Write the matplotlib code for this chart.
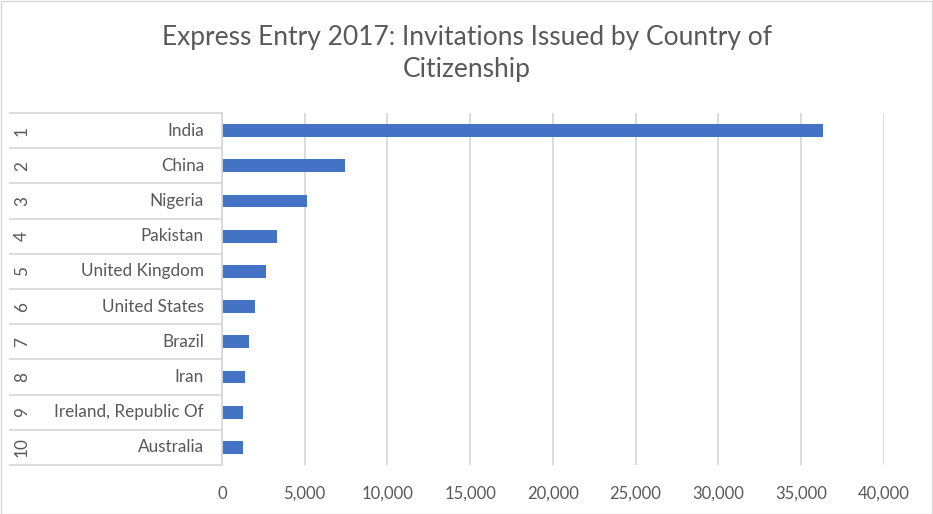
import matplotlib
matplotlib.use("Agg")
import matplotlib.pyplot as plt
from matplotlib.transforms import blended_transform_factory
from matplotlib.patches import Rectangle
from matplotlib.ticker import FuncFormatter

ranks = ["1", "2", "3", "4", "5", "6", "7", "8", "9", "10"]
countries = ["India", "China", "Nigeria", "Pakistan", "United Kingdom",
             "United States", "Brazil", "Iran", "Ireland, Republic Of", "Australia"]
invitations = [36310, 7441, 5150, 3322, 2680, 2000, 1620, 1380, 1260, 1250]
xticks = [0, 5000, 10000, 15000, 20000, 25000, 30000, 35000, 40000]
title = "Express Entry 2017: Invitations Issued by Country of\nCitizenship"

W, H = 933, 514
fig = plt.figure(figsize=(W / 100, H / 100), dpi=100)
plt.rcParams['font.family'] = ['Lato', 'DejaVu Sans']
TXT = "#595959"
GRID = "#d9d9d9"

x0, x1, y0, y1 = 222, 883.7, 113, 465
ax = fig.add_axes([x0 / W, 1 - y1 / H, (x1 - x0) / W, (y1 - y0) / H])

n = len(countries)
ypos = list(range(n))
ax.barh(ypos, invitations, height=0.36, color="#4472c4", zorder=3)
ax.set_ylim(n - 0.5, -0.5)
ax.set_xlim(0, 40000)
ax.set_xticks(xticks)
ax.xaxis.set_major_formatter(FuncFormatter(lambda v, p: f"{int(v):,}"))
ax.tick_params(axis='x', length=0, pad=15, labelsize=12, labelcolor=TXT)
ax.set_yticks([])
ax.grid(axis='x', color=GRID, linewidth=1.3, zorder=0)
for s in ['top', 'right', 'bottom']:
    ax.spines[s].set_visible(False)
ax.spines['left'].set_color(GRID)
ax.spines['left'].set_linewidth(1.3)
ax.spines['left'].set_zorder(4)

tr = blended_transform_factory(fig.transFigure, ax.transData)
for i in range(n + 1):
    ax.plot([10 / W, x0 / W], [i - 0.5, i - 0.5], transform=tr, color=GRID,
            linewidth=1.3, clip_on=False)
for i, (r, c) in enumerate(zip(ranks, countries)):
    ax.text(204 / W, i, c, transform=tr, ha='right', va='center',
            fontsize=12.3, color=TXT)
    ax.text(22 / W, i, r, transform=tr, ha='center', va='center',
            fontsize=12.3, color=TXT, rotation=90)

fig.text(0.5, 1 - 38 / H, title.split("\n")[0], ha='center', va='center',
         fontsize=19, color=TXT)
fig.text(0.5, 1 - 70 / H, title.split("\n")[1], ha='center', va='center',
         fontsize=19, color=TXT)

fig.patches.append(Rectangle((0.5 / W, 0.5 / H), (W - 1.5) / W, (H - 1.5) / H,
                             transform=fig.transFigure, fill=False,
                             edgecolor=GRID, linewidth=1))

fig.savefig("out.png", dpi=100, facecolor="white")
